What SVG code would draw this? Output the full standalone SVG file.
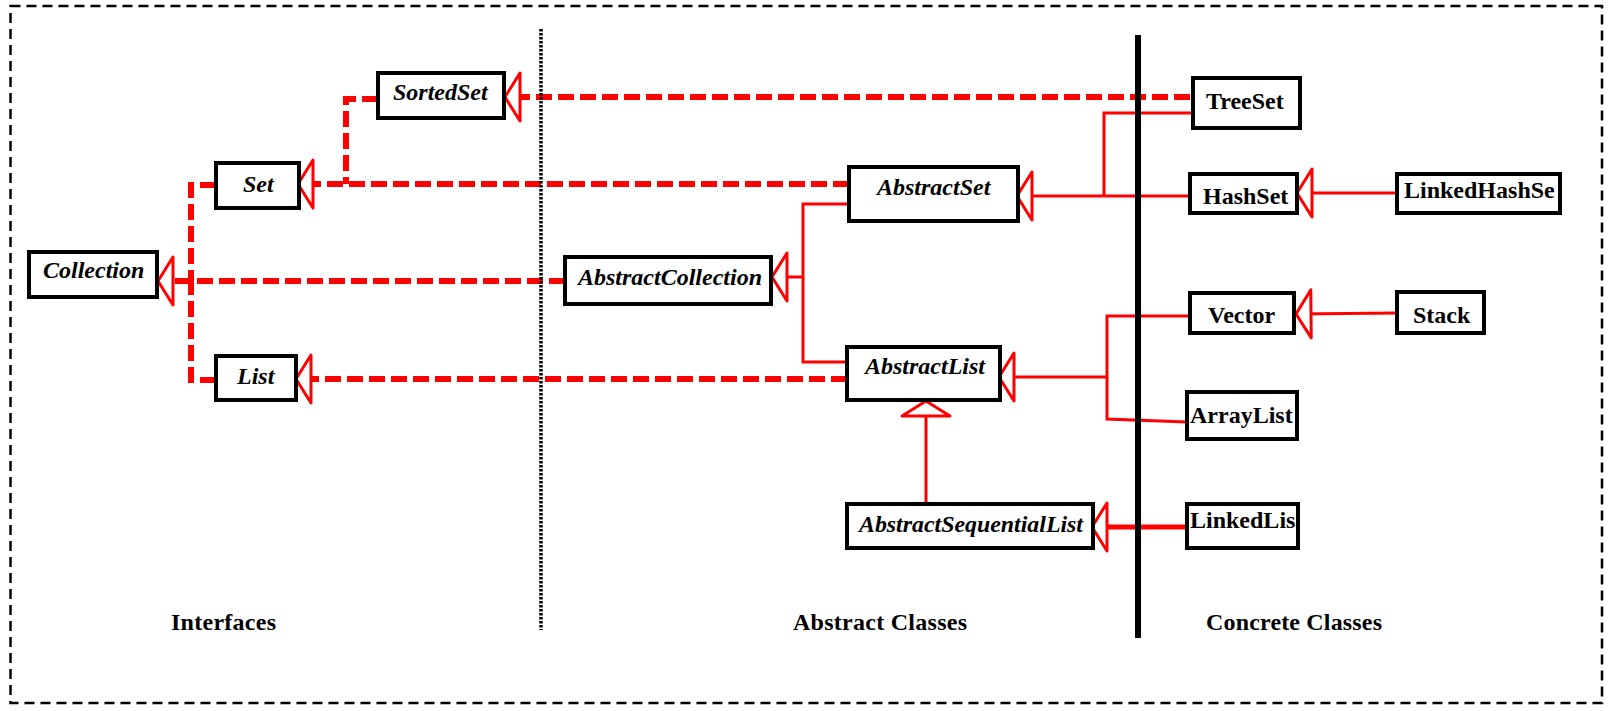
<svg xmlns="http://www.w3.org/2000/svg" width="1611" height="711" viewBox="0 0 1611 711">
<defs>
<style>
.box{fill:#fff;stroke:#000;stroke-width:4}
.it{font-family:"Liberation Serif","Times New Roman",serif;font-size:24px;font-weight:bold;font-style:italic;fill:#000}
.cc{font-family:"Liberation Serif","Times New Roman",serif;font-size:24px;font-weight:bold;fill:#000}
.lbl{font-family:"Liberation Serif","Times New Roman",serif;font-size:24px;font-weight:bold;fill:#000}
.dash{fill:none;stroke:#f00;stroke-width:6;stroke-dasharray:16 6}
.solid{fill:none;stroke:#f00;stroke-width:3}
.thick{fill:none;stroke:#f00;stroke-width:5}
.arr{marker-end:url(#tri)}
</style>
<marker id="tri" markerUnits="userSpaceOnUse" markerWidth="22" markerHeight="54" viewBox="0 0 22 54" refX="19" refY="27" orient="auto" overflow="visible">
<path d="M19,27 L4,3 L4,51 Z" fill="#fff" stroke="#f00" stroke-width="3" stroke-dasharray="none" stroke-linejoin="round"/>
</marker>
</defs>
<rect width="1611" height="711" fill="#fff"/>
<rect x="10.5" y="6" width="1591.5" height="697" fill="none" stroke="#000" stroke-width="2.5" stroke-dasharray="10 6"/>

<g id="connectors">
<path class="dash arr" d="M1190,97 H505"/>
<path class="dash" d="M378,99 H346 V184"/>
<path class="dash arr" d="M849,184 H298"/>
<path class="dash" d="M216,185 H191 V281"/>
<path class="dash" d="M216,380 H191 V281"/>
<path class="dash arr" d="M565,281 H158"/>
<path class="dash arr" d="M847,379 H296"/>
<path class="solid arr" d="M849,204 H803 V277 H772"/>
<path class="solid" d="M847,362 H803 V277"/>
<path class="solid" d="M1193,113 H1104 V196"/>
<path class="solid arr" d="M1190,196 H1017"/>
<path class="solid arr" d="M1397,193 H1297"/>
<path class="solid arr" d="M1397,313 L1296,314"/>
<path class="solid arr" d="M1190,316 H1107 V377 H999"/>
<path class="solid" d="M1187,422 L1107,419 V377"/>
<path class="thick arr" d="M1190,527 H1092"/>
<path class="solid arr" d="M926,504 V401"/>
</g>

<g id="separators">
<line x1="541" y1="29" x2="541" y2="630" stroke="#000" stroke-width="3.5" stroke-dasharray="2.5 1.5"/>
<line x1="1138" y1="35" x2="1138" y2="638" stroke="#000" stroke-width="6"/>
</g>

<g id="SortedSet"><rect class="box" x="378" y="73" width="126" height="45"/><text class="it" x="393" y="100">SortedSet</text></g>
<g id="Set"><rect class="box" x="216" y="163" width="83" height="45"/><text class="it" x="243" y="192">Set</text></g>
<g id="Collection"><rect class="box" x="29" y="252" width="128" height="45"/><text class="it" x="43" y="278">Collection</text></g>
<g id="List"><rect class="box" x="216" y="356" width="80" height="44"/><text class="it" x="237" y="384">List</text></g>
<g id="AbstractCollection"><rect class="box" x="565" y="257" width="206" height="47"/><text class="it" x="578" y="285">AbstractCollection</text></g>
<g id="AbstractSet"><rect class="box" x="849" y="167" width="169" height="54"/><text class="it" x="877" y="195">AbstractSet</text></g>
<g id="AbstractList"><rect class="box" x="847" y="347" width="153" height="53"/><text class="it" x="865" y="374">AbstractList</text></g>
<g id="AbstractSequentialList"><rect class="box" x="847" y="504" width="246" height="44"/><text class="it" x="859" y="532" textLength="224" lengthAdjust="spacingAndGlyphs">AbstractSequentialList</text></g>
<g id="TreeSet"><rect class="box" x="1193" y="78" width="107" height="50"/><text class="cc" x="1206" y="109">TreeSet</text></g>
<g id="HashSet"><rect class="box" x="1190" y="174" width="107" height="39"/><text class="cc" x="1203" y="204">HashSet</text></g>
<g id="LinkedHashSet"><rect class="box" x="1397" y="174" width="163" height="39"/><text class="cc" x="1404" y="198">LinkedHashSe</text></g>
<g id="Vector"><rect class="box" x="1190" y="293" width="104" height="40"/><text class="cc" x="1208" y="323">Vector</text></g>
<g id="Stack"><rect class="box" x="1397" y="292" width="87" height="41"/><text class="cc" x="1413" y="323">Stack</text></g>
<g id="ArrayList"><rect class="box" x="1187" y="392" width="110" height="47"/><text class="cc" x="1190" y="423">ArrayList</text></g>
<g id="LinkedList"><rect class="box" x="1187" y="504" width="111" height="44"/><text class="cc" x="1190" y="528">LinkedLis</text></g>

<g id="labels">
<text class="lbl" x="171" y="630" textLength="105" lengthAdjust="spacing">Interfaces</text>
<text class="lbl" x="793" y="630" textLength="174" lengthAdjust="spacing">Abstract Classes</text>
<text class="lbl" x="1206" y="630" textLength="176" lengthAdjust="spacing">Concrete Classes</text>
</g>
</svg>
